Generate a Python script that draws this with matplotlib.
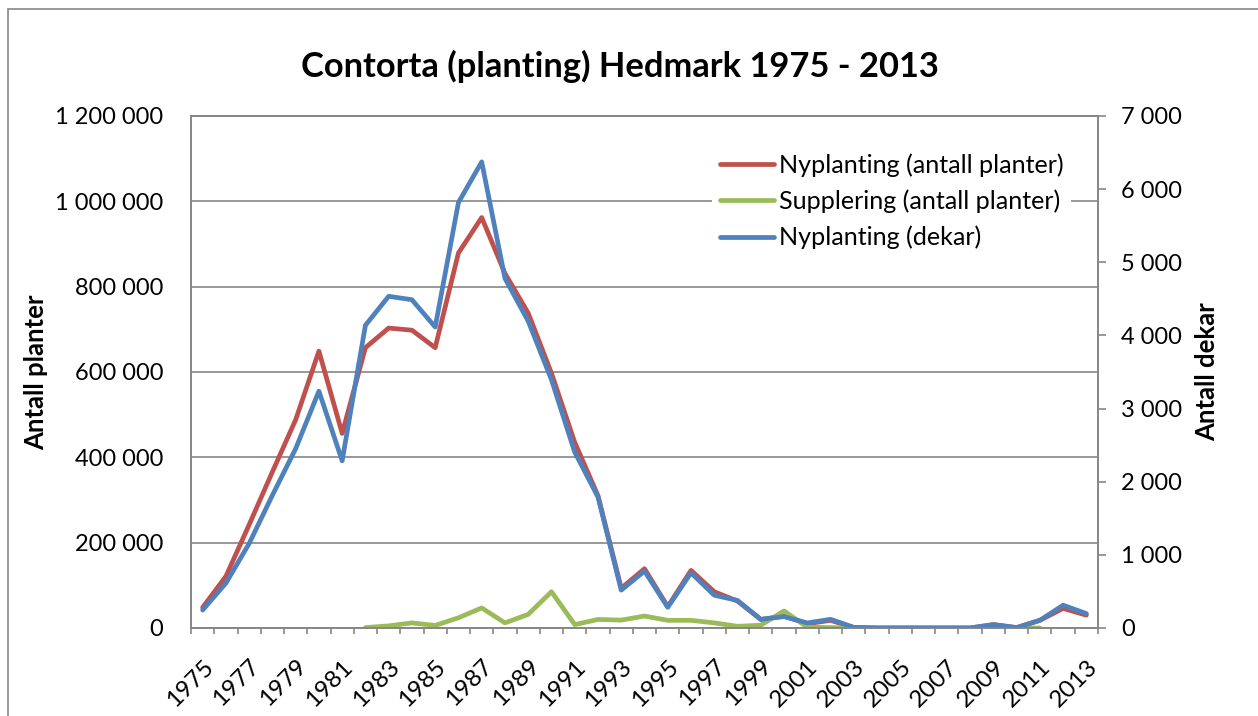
import matplotlib
matplotlib.use("Agg")
import matplotlib.pyplot as plt
from matplotlib.ticker import FuncFormatter, FixedLocator
from matplotlib.patches import Rectangle
import numpy as np

plt.rcParams['font.family'] = ['Lato', 'DejaVu Sans']

# data
years = list(range(1975, 2014))
nyplanting_planter = [48000, 121000, 242000, 366000, 488000, 649000, 456000, 657000,
                      703000, 698000, 657000, 879000, 962000, 831000, 738000, 597000,
                      435000, 310000, 93000, 139000, 50000, 135000, 85000, 63000,
                      20000, 28000, 10000, 18000, 1000, 0, 0, 0, 0, 0, 8000, 1000,
                      18000, 46000, 30000]
suppl_planter = [None, None, None, None, None, None, None, 1000,
                 5000, 12000, 6000, 24000, 47000, 12000, 32000, 85000,
                 8000, 20000, 18500, 28000, 18000, 18000, 12000, 4000,
                 6500, 40000, 2000, 1000, 0, 0, 0, 0, 0, 0, 0, 0,
                 0, None, None]
nyplanting_dekar = [245, 613, 1155, 1815, 2451, 3238, 2286, 4139,
                    4535, 4488, 4115, 5817, 6373, 4780, 4195, 3394,
                    2404, 1791, 518, 778, 283, 754, 448, 377,
                    118, 156, 69, 119, 9, 0, 0, 0, 0, 0, 46, 5,
                    105, 312, 197]

labels = ['Nyplanting (antall planter)', 'Supplering (antall planter)', 'Nyplanting (dekar)']
title = 'Contorta (planting) Hedmark 1975 - 2013'

red = '#C0504D'
green = '#9BBB59'
blue = '#4F81BD'
grey = '#868686'

W, H = 1258, 716
fig = plt.figure(figsize=(W / 100, H / 100), dpi=100)

# chart area border (runs off the right/bottom edge in the reference)
fig.patches.append(Rectangle((8 / W, -0.1), 1.2, 1 - 9 / H + 0.1, transform=fig.transFigure,
                             fill=False, edgecolor=grey, lw=1.2))

l, r, t, b = 191, 1098, 116, 628
ax = fig.add_axes([l / W, 1 - b / H, (r - l) / W, (b - t) / H])
ax2 = ax.twinx()

x = np.arange(len(years))
sup = np.array([np.nan if v is None else v for v in suppl_planter], dtype=float)

kw = dict(lw=3.4, solid_capstyle='round', solid_joinstyle='round')
h1, = ax.plot(x, nyplanting_planter, color=red, label=labels[0], **kw)
h2, = ax.plot(x, sup, color=green, label=labels[1], **kw)
h3, = ax2.plot(x, nyplanting_dekar, color=blue, label=labels[2], **kw)

ax.set_xlim(-0.5, len(years) - 0.5)
ax.set_ylim(0, 1200000)
ax2.set_ylim(0, 7000)

ax.set_yticks(np.arange(0, 1200001, 200000))
ax2.set_yticks(np.arange(0, 7001, 1000))
fmt = FuncFormatter(lambda v, p: f"{v:,.0f}".replace(",", " "))
ax.yaxis.set_major_formatter(fmt)
ax2.yaxis.set_major_formatter(fmt)

ax.grid(axis='y', color=grey, lw=1.2)
ax.set_axisbelow(True)

# tick marks between categories, labels every second year
ax.xaxis.set_major_locator(FixedLocator(np.arange(-0.5, len(years), 1.0)))
ax.xaxis.set_major_formatter(FuncFormatter(lambda v, p: ''))
ax.set_xticks(x[::2], minor=True)
ax.set_xticklabels([str(y) for y in years[::2]], minor=True, rotation=45,
                   ha='right', va='top', rotation_mode='anchor')
ax.tick_params(axis='x', which='major', direction='out', length=4.5, width=1.2, color=grey)
ax.tick_params(axis='x', which='minor', length=0, pad=20, labelsize=17.5)
ax.tick_params(axis='y', length=0, pad=20, labelsize=17)
ax2.tick_params(axis='y', direction='out', length=5.8, width=1.2, color=grey, pad=11, labelsize=17)

for a in (ax, ax2):
    for s in a.spines.values():
        s.set_color(grey)
        s.set_linewidth(1.2)

fig.text(620 / W, 1 - 66 / H, title, ha='center', va='center', fontsize=24.8, fontweight='bold')
fig.text(36 / W, 1 - 372 / H, 'Antall planter', rotation=90, ha='center', va='center',
         fontsize=18.5, fontweight='bold')
fig.text(1207 / W, 1 - 372 / H, 'Antall dekar', rotation=90, ha='center', va='center',
         fontsize=18.5, fontweight='bold')

leg = ax2.legend(handles=[h1, h2, h3], loc='upper left', bbox_to_anchor=(712 / W, 1 - 146 / H),
                 bbox_transform=fig.transFigure, fontsize=18.1, frameon=True, facecolor='white',
                 edgecolor='none', framealpha=1, fancybox=False, borderpad=0.3,
                 borderaxespad=0, handlelength=2.15, handletextpad=0.2, labelspacing=0.5)

fig.savefig('out.png', dpi=100)
